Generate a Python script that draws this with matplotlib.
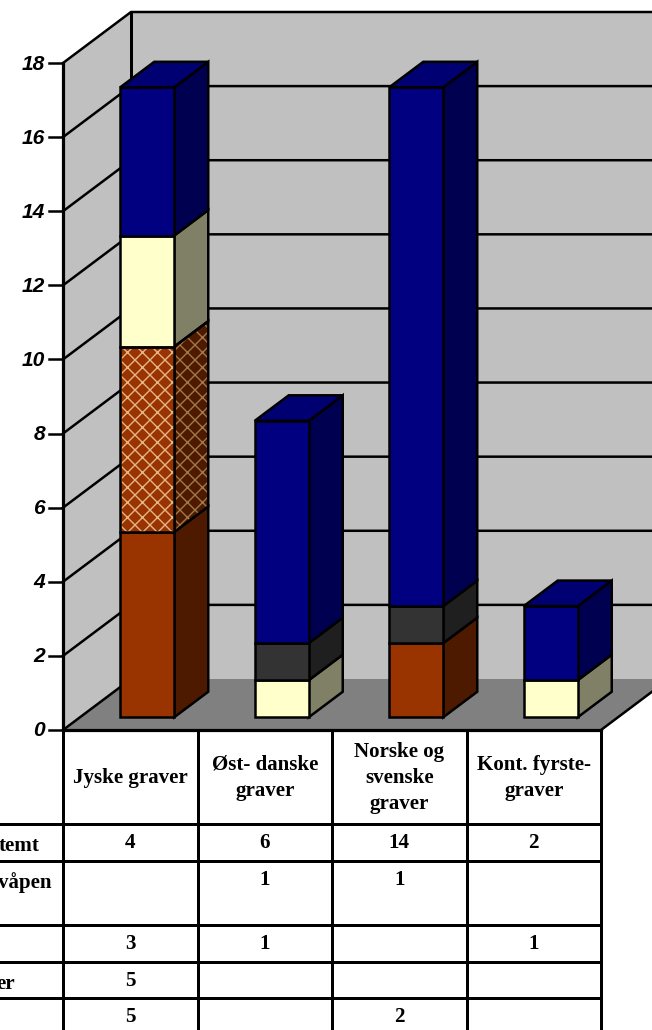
import matplotlib
matplotlib.use("Agg")
import matplotlib.pyplot as plt
from matplotlib.patches import Polygon

categories = ["Jyske graver", "Øst- danske\ngraver", "Norske og\nsvenske\ngraver", "Kont. fyrste-\ngraver"]
ubestemt = [4, 6, 14, 2]
vapen = [0, 1, 1, 0]
rad3 = [3, 1, 0, 1]
rad4 = [5, 0, 0, 0]
rad5 = [5, 0, 2, 0]
series_top_down = [ubestemt, vapen, rad3, rad4, rad5]
row_labels = ["temt", "våpen", "", "er", ""]
yticks = list(range(0, 19, 2))

# style: face, side, top, hatch colours per series
faces = ["#000080", "#333333", "#FFFFCC", "#993300", "#993300"]
sides = ["#000050", "#1F1F1F", "#808066", "#4D1A00", "#4D1A00"]
tops = ["#000073", "#2A2A2A", "#CCCCA3", "#7A2900", "#7A2900"]
hatches = [None, None, None, ("#E3B585", "#A07848"), None]

W, H = 652, 1030
DPI = 90
PX = 72 / DPI  # one pixel in points
plt.rcParams["hatch.linewidth"] = 1.4 * PX
fig = plt.figure(figsize=(W / DPI, H / DPI), dpi=DPI, facecolor="white")
ax = fig.add_axes([0, 0, 1, 1])
ax.set_xlim(0, W)
ax.set_ylim(H, 0)
ax.axis("off")

X0, Y0, Y18 = 63, 730, 63
UNIT = (Y0 - Y18) / 18
DX, DY = 68, -51
COLW = (601 - X0) / 4
BARW = 54
K = "black"


def py(v):
    return Y0 - v * UNIT


def line(xs, ys, lw=2.5, color=K, z=3):
    ax.plot(xs, ys, color=color, lw=lw * PX, solid_capstyle="projecting", zorder=z)


def poly(pts, fc, z, hatch=None, lw=2.5):
    if hatch:
        ax.add_patch(Polygon(pts, closed=True, facecolor=fc, edgecolor=hatch, hatch="xx", lw=0, zorder=z))
        ax.add_patch(Polygon(pts, closed=True, fill=False, edgecolor=K, lw=lw * PX, joinstyle="miter", zorder=z + 0.1))
    else:
        ax.add_patch(Polygon(pts, closed=True, facecolor=fc, edgecolor=K, lw=lw * PX, joinstyle="miter", zorder=z))


XR = X0 + 4 * COLW
# walls and floor
ax.add_patch(Polygon([(X0, Y0), (X0, Y18), (X0 + DX, Y18 + DY), (X0 + DX, Y0 + DY)], closed=True, fc="#C0C0C0", ec="none", zorder=1))
ax.add_patch(Polygon([(X0 + DX, Y0 + DY), (X0 + DX, Y18 + DY), (XR + DX, Y18 + DY), (XR + DX, Y0 + DY)], closed=True, fc="#C0C0C0", ec="none", zorder=1))
ax.add_patch(Polygon([(X0, Y0), (XR, Y0), (XR + DX, Y0 + DY), (X0 + DX, Y0 + DY)], closed=True, fc="#808080", ec="none", zorder=2))

lab = dict(ha="right", va="center", fontsize=21 * PX, family="Liberation Sans", weight="bold", style="italic")
# gridlines
for v in yticks[1:]:
    y = py(v)
    line([X0, X0 + DX, XR + DX], [y, y + DY, y + DY], z=1.5)
    line([X0 - 14, X0], [y, y])
    ax.text(X0 - 18, y + 1, str(v), **lab)
line([X0 - 14, X0], [Y0, Y0])
ax.text(X0 - 18, Y0 + 1, "0", **lab)
line([X0, X0], [Y18, Y0], lw=3.2)
line([X0 + DX, X0 + DX], [Y18 + DY, Y0 + DY], lw=3, z=1.6)
line([X0, X0 + DX], [Y0, Y0 + DY], z=2.1)
line([XR, XR + DX], [Y0, Y0 + DY], z=2.1)

# bars
bdx, bdy = DX / 2, DY / 2
for c in range(len(categories)):
    xl = X0 + COLW * (c + 0.5) + DX / 4 - BARW / 2
    xr = xl + BARW
    off = DY / 4
    base = 0
    z = 4 + c
    nonzero = [i for i in range(len(series_top_down) - 1, -1, -1) if series_top_down[i][c] > 0]
    for n, i in enumerate(nonzero):
        v = series_top_down[i][c]
        yb, yt = py(base) + off, py(base + v) + off
        h = hatches[i]
        poly([(xr, yb), (xr + bdx, yb + bdy), (xr + bdx, yt + bdy), (xr, yt)], sides[i], z, hatch=h[1] if h else None)
        poly([(xl, yb), (xr, yb), (xr, yt), (xl, yt)], faces[i], z + 0.2, hatch=h[0] if h else None)
        if n == len(nonzero) - 1:
            poly([(xl, yt), (xr, yt), (xr + bdx, yt + bdy), (xl + bdx, yt + bdy)], tops[i], z + 0.2)
        base += v

# data table
row_edges = [Y0, 824, 861, 925, 962, 998, H + 5]
tf = dict(family="Liberation Serif", weight="bold", fontsize=21 * PX, color=K, linespacing=1.43)
for j in range(5):
    line([X0 + j * COLW] * 2, [Y0, H + 5], lw=3, z=8)
line([X0, XR], [Y0, Y0], lw=3.2, z=12)
for y in row_edges[1:-1]:
    line([0, XR], [y, y], lw=3, z=8)
for c, name in enumerate(categories):
    ax.text(X0 + COLW * (c + 0.5), (row_edges[0] + row_edges[1]) / 2 + 1, name, ha="center", va="center", **tf)
for r, (vals, lbl) in enumerate(zip(series_top_down, row_labels)):
    ytext = row_edges[r + 1] + 19
    if lbl:
        right = {"temt": 40, "våpen": 51, "er": 15}[lbl]
        ax.text(right, ytext + 3, lbl, ha="right", va="center", **tf)
    for c, v in enumerate(vals):
        if v:
            ax.text(X0 + COLW * (c + 0.5), ytext, str(v), ha="center", va="center", **tf)

fig.savefig("out.png", dpi=DPI, facecolor="white")
